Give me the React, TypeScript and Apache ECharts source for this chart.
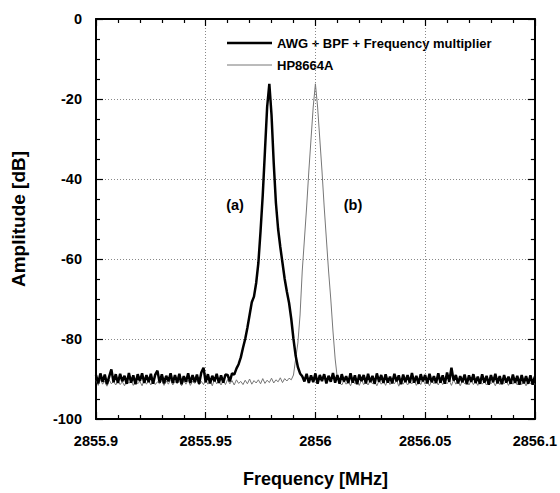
import React, { useEffect, useRef } from "react";
import * as echarts from "echarts";

const freqStart = 2855.9;
const freqStep = 0.001;

const awgSeriesName = "AWG + BPF + Frequency multiplier";
const hpSeriesName = "HP8664A";

// AWG + BPF + Frequency multiplier (dB), sampled every 1 kHz from 2855.9 MHz
const awgAmp: number[] = [
  -89.0, -91.1, -88.6, -90.7, -88.9, -91.3, -89.4, -87.6, -90.8, -88.8,
  -91.0, -88.7, -90.6, -89.2, -91.2, -88.5, -90.9, -89.1, -91.3, -88.8,
  -90.5, -88.6, -91.0, -89.0, -90.8, -88.7, -91.2, -88.9, -87.9, -90.9,
  -88.8, -91.1, -89.2, -90.6, -88.6, -91.0, -89.0, -90.9, -88.7, -91.3,
  -89.3, -90.7, -88.6, -91.0, -89.0, -90.8, -88.9, -91.2, -88.4, -87.2,
  -90.8, -88.8, -91.1, -89.2, -90.6, -88.7, -91.0, -89.1, -90.9, -88.9,
  -89.0, -90.6, -88.6, -88.9, -87.4, -86.3, -84.6, -82.2, -80.0, -77.2,
  -74.0, -70.8, -69.4, -66.0, -61.0, -53.0, -44.0, -33.0, -22.0, -16.2,
  -24.0, -36.0, -46.0, -52.5, -57.0, -61.0, -65.0, -68.2, -71.0, -75.0,
  -80.0, -84.2, -87.0, -88.6, -89.3, -90.6,
  -88.7, -91.0, -89.1, -90.8, -88.6, -91.2, -89.0, -90.5, -88.8, -91.1,
  -89.2, -90.7, -88.5, -90.9, -89.0, -91.2, -88.8, -90.6, -89.3, -91.0,
  -88.6, -90.9, -89.1, -91.3, -88.9, -90.5, -89.0, -91.1, -88.7, -90.8,
  -89.2, -91.2, -88.6, -90.7, -89.0, -91.0, -88.8, -90.9, -89.4, -91.1,
  -88.7, -90.6, -89.1, -91.3, -88.9, -90.8, -89.0, -91.0, -88.5, -90.9,
  -89.2, -91.2, -88.8, -90.6, -89.0, -91.1, -88.7, -90.8, -89.3, -91.0,
  -88.6, -90.9, -89.1, -91.2, -88.4, -90.7, -87.2, -90.4, -89.0, -91.1,
  -89.3, -90.8, -88.9, -91.3, -89.1, -90.7, -88.8, -91.0, -89.4, -91.2,
  -88.8, -90.9, -89.2, -91.4, -89.0, -90.8, -88.7, -91.1, -89.3, -91.3,
  -89.0, -90.9, -89.4, -91.2, -88.9, -91.0, -89.2, -91.4, -89.0, -91.1,
  -89.3, -91.2, -89.1, -91.4, -89.4,
];

// HP8664A (dB), same sampling
const hpAmp: number[] = [
  -90.4, -91.6, -90.1, -91.3, -90.5, -91.8, -90.2, -91.2, -90.6, -91.5,
  -90.3, -91.4, -90.7, -91.7, -90.2, -91.1, -90.5, -91.6, -90.3, -91.2,
  -90.6, -91.7, -90.1, -91.3, -90.4, -91.5, -90.2, -91.4, -90.7, -91.2,
  -90.3, -91.6, -90.5, -91.3, -90.1, -91.5, -90.6, -91.2, -90.3, -91.7,
  -90.4, -91.3, -90.2, -91.6, -90.5, -91.1, -90.3, -91.5, -90.6, -91.4,
  -90.2, -91.3, -90.4, -91.7, -90.1, -91.2, -90.5, -91.5, -90.3, -91.4,
  -90.1, -91.2, -90.4, -91.5, -90.2, -91.1, -90.6, -91.4, -90.3, -91.2,
  -90.0, -91.3, -90.4, -91.0, -90.2, -91.2, -89.9, -91.1, -90.3, -90.9,
  -89.8, -91.0, -90.2, -90.7, -89.7, -90.9, -89.9, -90.5, -89.8,
  -90.2, -89.0, -85.0, -81.0, -74.0, -63.0, -55.0, -47.0, -38.0, -30.0,
  -22.0, -16.2, -22.0, -30.0, -38.0, -47.0, -55.0, -63.0, -70.0, -78.0,
  -85.0, -89.8, -90.9,
  -91.5, -90.4, -91.3, -90.6, -91.7, -90.3, -91.2, -90.5, -91.6, -90.2,
  -91.4, -90.7, -91.5, -90.3, -91.2, -90.6, -91.7, -90.4, -91.3, -90.5,
  -91.6, -90.2, -91.4, -90.6, -91.2, -90.3, -91.8, -90.5, -91.3, -90.4,
  -91.5, -90.7, -91.2, -90.3, -91.6, -90.5, -91.4, -90.2, -91.3, -90.6,
  -91.7, -90.4, -91.2, -90.5, -91.5, -90.3, -91.4, -90.6, -91.2, -90.4,
  -91.6, -90.2, -91.3, -90.5, -91.7, -90.4, -91.2, -90.6, -91.5, -90.3,
  -91.4, -90.5, -91.6, -90.2, -91.3, -90.7, -91.5, -90.4, -91.2, -90.6,
  -91.7, -90.3, -91.4, -90.5, -91.2, -90.6, -91.6, -90.4, -91.3, -90.5,
  -91.5, -90.3, -91.4, -90.6, -91.7, -90.4, -91.2, -90.5, -91.4,
];

const xTicks = { min: 2855.9, max: 2856.1, interval: 0.05 };
const yTicks = { min: -100, max: 0, interval: 20 };

const FONT = "'Liberation Sans', Arial, Helvetica, sans-serif";

function toPairs(arr: number[]): [number, number][] {
  return arr.map((v, i) => [Number((freqStart + i * freqStep).toFixed(4)), v]);
}

export default function App() {
  const ref = useRef<HTMLDivElement>(null);
  useEffect(() => {
    if (!ref.current) return;
    const chart = echarts.init(ref.current, null, { renderer: "svg" });
    const fmtX = (v: number) => parseFloat(v.toFixed(3)).toString();
    const commonX = {
      type: "value" as const,
      min: xTicks.min,
      max: xTicks.max,
      interval: xTicks.interval,
      axisLine: { show: true, onZero: false, lineStyle: { color: "#000", width: 2 } },
      axisTick: { show: true, inside: true, length: 7, lineStyle: { color: "#000", width: 1.2 } },
      minorTick: { show: true, splitNumber: 5, length: 4, lineStyle: { color: "#000", width: 1.2 } },
    };
    const commonY = {
      type: "value" as const,
      min: yTicks.min,
      max: yTicks.max,
      interval: yTicks.interval,
      axisLine: { show: true, onZero: false, lineStyle: { color: "#000", width: 2 } },
      axisTick: { show: true, inside: true, length: 7, lineStyle: { color: "#000", width: 1.2 } },
      minorTick: { show: true, splitNumber: 4, length: 4, lineStyle: { color: "#000", width: 1.2 } },
    };
    chart.setOption({
      animation: false,
      backgroundColor: "#fff",
      grid: { left: 96, right: 25, top: 19, bottom: 71, containLabel: false },
      xAxis: [
        {
          ...commonX,
          position: "bottom",
          name: "Frequency [MHz]",
          nameLocation: "middle",
          nameGap: 51,
          nameTextStyle: { fontFamily: FONT, fontWeight: "bold", fontSize: 18, color: "#000" },
          axisLabel: {
            formatter: fmtX,
            margin: 14,
            fontFamily: FONT,
            fontWeight: "bold",
            fontSize: 14.5,
            color: "#000",
          },
          splitLine: { show: true, lineStyle: { color: "#888", type: [1, 2], width: 1 } },
        },
        {
          ...commonX,
          position: "top",
          axisLabel: { show: false },
          splitLine: { show: false },
        },
      ],
      yAxis: [
        {
          ...commonY,
          position: "left",
          name: "Amplitude [dB]",
          nameLocation: "middle",
          nameGap: 68,
          nameRotate: 90,
          nameTextStyle: { fontFamily: FONT, fontWeight: "bold", fontSize: 19, color: "#000" },
          axisLabel: {
            margin: 14,
            fontFamily: FONT,
            fontWeight: "bold",
            fontSize: 14.5,
            color: "#000",
          },
          splitLine: { show: true, lineStyle: { color: "#888", type: [1, 2], width: 1 } },
        },
        {
          ...commonY,
          position: "right",
          axisLabel: { show: false },
          splitLine: { show: false },
        },
      ],
      series: [
        {
          name: hpSeriesName,
          type: "line",
          data: toPairs(hpAmp),
          showSymbol: false,
          symbol: "none",
          lineStyle: { color: "#777", width: 1 },
          z: 2,
        },
        {
          name: awgSeriesName,
          type: "line",
          data: toPairs(awgAmp),
          showSymbol: false,
          symbol: "none",
          lineStyle: { color: "#000", width: 2.5 },
          z: 3,
        },
      ],
      graphic: [
        { type: "line", shape: { x1: 227, y1: 43, x2: 272, y2: 43 }, style: { stroke: "#000", lineWidth: 2.5 } },
        {
          type: "text",
          x: 277,
          y: 43,
          style: {
            text: awgSeriesName,
            fontFamily: FONT,
            fontWeight: "bold",
            fontSize: 13,
            fill: "#000",
            verticalAlign: "middle",
          },
        },
        { type: "line", shape: { x1: 227, y1: 65, x2: 272, y2: 65 }, style: { stroke: "#777", lineWidth: 1 } },
        {
          type: "text",
          x: 277,
          y: 65,
          style: {
            text: hpSeriesName,
            fontFamily: FONT,
            fontWeight: "bold",
            fontSize: 13,
            fill: "#000",
            verticalAlign: "middle",
          },
        },
        {
          type: "text",
          x: 235,
          y: 205,
          style: {
            text: "(a)",
            fontFamily: FONT,
            fontWeight: "bold",
            fontSize: 14.5,
            fill: "#000",
            align: "center",
            verticalAlign: "middle",
          },
        },
        {
          type: "text",
          x: 353,
          y: 205,
          style: {
            text: "(b)",
            fontFamily: FONT,
            fontWeight: "bold",
            fontSize: 14.5,
            fill: "#000",
            align: "center",
            verticalAlign: "middle",
          },
        },
      ],
    });
    return () => chart.dispose();
  }, []);
  return <div ref={ref} style={{ width: 560, height: 493, position: "absolute", left: 0, top: 0 }} />;
}
